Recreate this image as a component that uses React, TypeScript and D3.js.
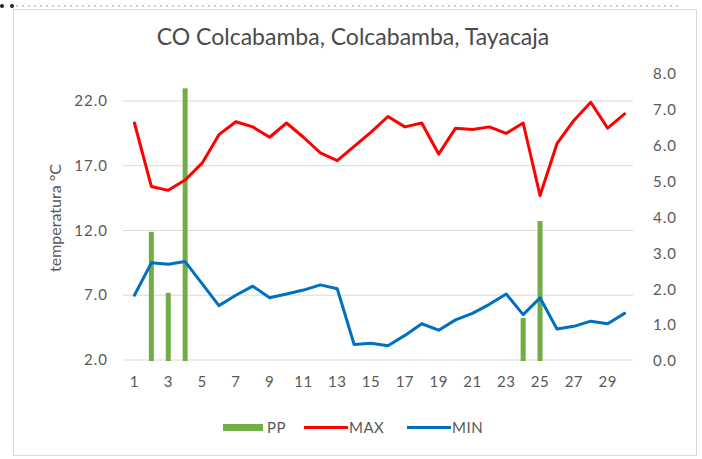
import React from "react";
import * as d3 from "d3";

const days = d3.range(1, 31);
const maxT = [20.3, 15.4, 15.1, 15.9, 17.2, 19.4, 20.4, 20.0, 19.2, 20.3, 19.2, 18.0, 17.4, 18.5, 19.6, 20.8, 20.0, 20.3, 17.9, 19.9, 19.8, 20.0, 19.5, 20.3, 14.7, 18.7, 20.5, 21.9, 19.9, 21.0];
const minT = [7.0, 9.5, 9.4, 9.6, 7.9, 6.2, 7.0, 7.7, 6.8, 7.1, 7.4, 7.8, 7.5, 3.2, 3.3, 3.1, 3.9, 4.8, 4.3, 5.1, 5.6, 6.3, 7.1, 5.5, 6.8, 4.4, 4.6, 5.0, 4.8, 5.6];
const pp = [0, 3.6, 1.9, 7.6, 0, 0, 0, 0, 0, 0, 0, 0, 0, 0, 0, 0, 0, 0, 0, 0, 0, 0, 0, 1.2, 3.9, 0, 0, 0, 0, 0];
const leftTicks = [2, 7, 12, 17, 22];
const rightTicks = [0, 1, 2, 3, 4, 5, 6, 7, 8];
const xTickLabels = days.filter((d) => d % 2 === 1);

const W = 702;
const H = 459;
const font = "Lato, 'Open Sans', sans-serif";
const textColor = "#595959";

export default function App() {
  const x = d3.scaleBand<number>().domain(days).range([126, 633]).padding(0);
  const yL = d3.scaleLinear().domain([2, 24.16]).range([360, 73]);
  const yR = d3.scaleLinear().domain([0, 8]).range([361, 74]);
  const cx = (d: number) => (x(d) as number) + x.bandwidth() / 2;
  const barW = 5;

  const line = d3
    .line<number>()
    .x((_, i) => cx(days[i]))
    .y((v) => yL(v));

  return (
    <svg
      width={W}
      height={H}
      style={{ position: "absolute", left: 0, top: 0, background: "#fff" }}
      fontFamily={font}
    >
      <rect x={0} y={0} width={W} height={H} fill="#fff" />
      <line x1={16} x2={680} y1={6} y2={6} stroke="#9a9a9a" strokeDasharray="2,4" strokeWidth={1} />
      <circle cx={2} cy={6} r={2} fill="#222" />
      <circle cx={12} cy={6} r={2} fill="#222" />
      <rect x={13.5} y={9.5} width={683} height={446} fill="none" stroke="#d9d9d9" strokeWidth={1} />

      <text x={353} y={45} textAnchor="middle" fontSize={23} fill="#4a4a4a">
        CO Colcabamba, Colcabamba, Tayacaja
      </text>

      {leftTicks.map((t) => (
        <g key={"l" + t}>
          <line x1={123} x2={633} y1={yL(t)} y2={yL(t)} stroke="#d9d9d9" strokeWidth={1} />
          <text x={108} y={yL(t)} dy="0.35em" textAnchor="end" fontSize={15} letterSpacing={1} fill={textColor}>
            {t.toFixed(1)}
          </text>
        </g>
      ))}
      {rightTicks.map((t) => (
        <text key={"r" + t} x={653} y={yR(t)} dy="0.35em" textAnchor="start" fontSize={15} letterSpacing={1} fill={textColor}>
          {t.toFixed(1)}
        </text>
      ))}
      {xTickLabels.map((d) => (
        <text key={"x" + d} x={cx(d)} y={382} dy="0.35em" textAnchor="middle" fontSize={15} letterSpacing={0.5} fill={textColor}>
          {d}
        </text>
      ))}

      <text
        transform={`translate(55,218) rotate(-90)`}
        textAnchor="middle"
        dy="0.35em"
        fontSize={16}
        fill={textColor}
      >
        temperatura °C
      </text>

      {days.map((d, i) =>
        pp[i] > 0 ? (
          <rect
            key={"b" + d}
            x={cx(d) - barW / 2}
            y={yR(pp[i])}
            width={barW}
            height={yR(0) - yR(pp[i])}
            fill="#70ad47"
          />
        ) : null
      )}

      <path d={line(maxT) || ""} fill="none" stroke="#ff0000" strokeWidth={3} strokeLinejoin="round" strokeLinecap="round" />
      <path d={line(minT) || ""} fill="none" stroke="#0070c0" strokeWidth={3} strokeLinejoin="round" strokeLinecap="round" />

      <g fontSize={15} letterSpacing={0.5} fill={textColor}>
        <rect x={223} y={424} width={40} height={7} fill="#70ad47" />
        <text x={267} y={427.5} dy="0.35em">PP</text>
        <line x1={304} x2={348} y1={427.5} y2={427.5} stroke="#ff0000" strokeWidth={3} />
        <text x={349} y={427.5} dy="0.35em">MAX</text>
        <line x1={407} x2={451} y1={427.5} y2={427.5} stroke="#0070c0" strokeWidth={3} />
        <text x={452} y={427.5} dy="0.35em">MIN</text>
      </g>
    </svg>
  );
}
